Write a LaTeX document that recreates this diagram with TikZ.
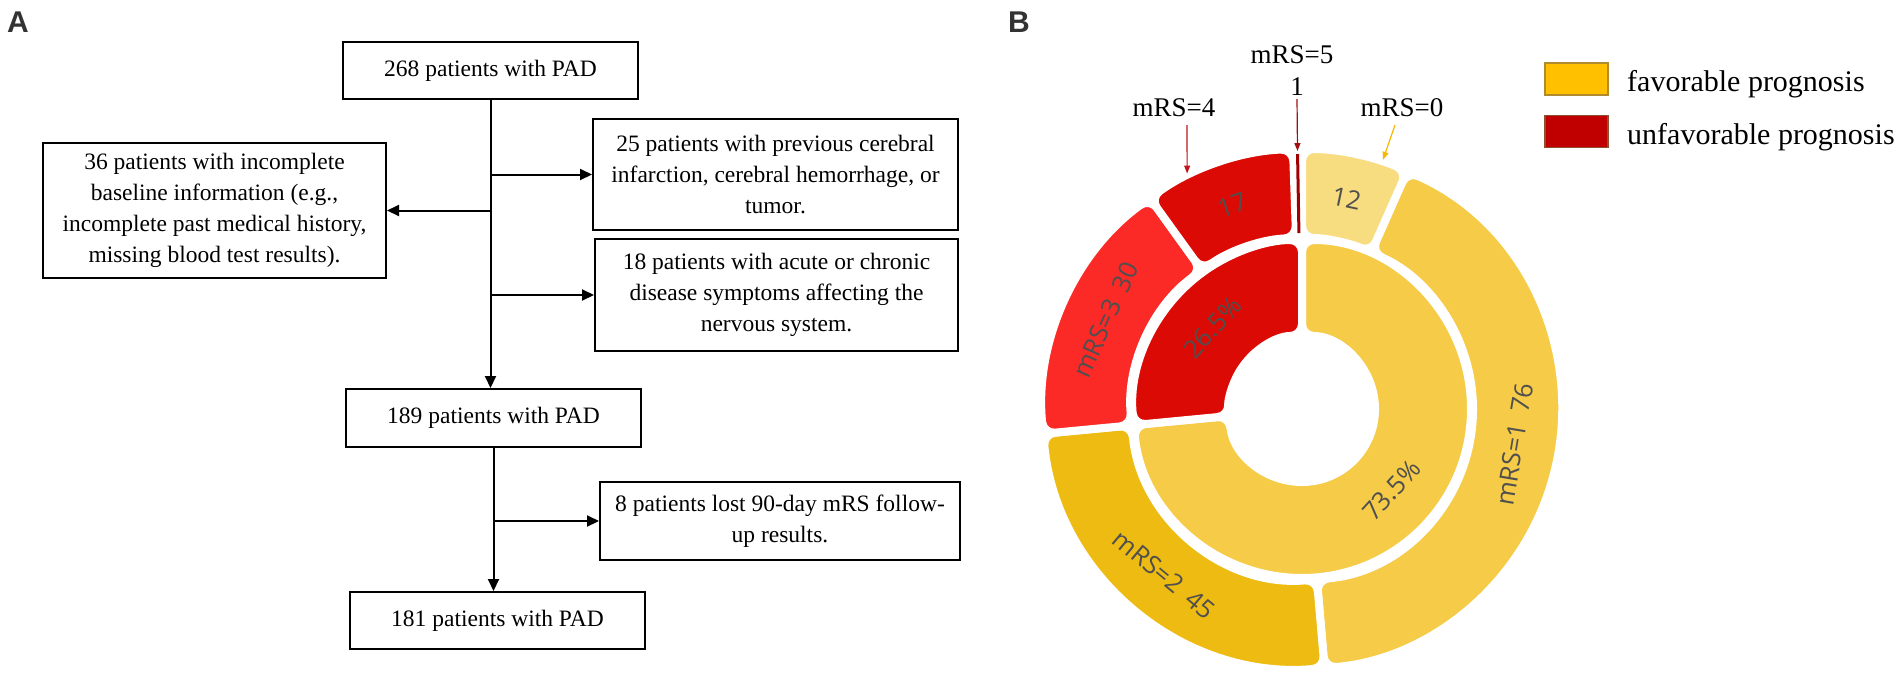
\documentclass[tikz,border=0pt]{standalone}
\usepackage{fontspec}
\setmainfont{Liberation Serif}
\newfontfamily\donutfont{Open Sans}
\newfontfamily\panelfont{Liberation Sans}
\usetikzlibrary{arrows.meta,calc}
\definecolor{cZero}{HTML}{F8DC80}
\definecolor{cOne}{HTML}{F5CB47}
\definecolor{cTwo}{HTML}{EDBB12}
\definecolor{cThree}{HTML}{FB2A27}
\definecolor{cFour}{HTML}{DC0A04}
\definecolor{cFive}{HTML}{A00000}
\definecolor{dgray}{HTML}{4F4F4F}
\definecolor{pgray}{HTML}{333333}
\definecolor{legY}{HTML}{FFC000}
\definecolor{legYb}{HTML}{B08A2E}
\definecolor{legR}{HTML}{C00000}
\definecolor{legRb}{HTML}{8E5030}
\definecolor{arrFour}{HTML}{C0141A}
\definecolor{arrFive}{HTML}{A01010}
\definecolor{arrZero}{HTML}{F5B800}
\newcommand\ringsector[5]{%
  \filldraw[fill=#1, draw=white, line width=8pt, rounded corners=12pt]
    (#2:#5) arc[start angle=#2, end angle=#3, radius=#5]
    -- (#3:#4) arc[start angle=#3, end angle=#2, radius=#4] -- cycle;}
\begin{document}
\begin{tikzpicture}[x=1pt,y=-1pt,
  box/.style={draw=black, line width=2pt, align=center, inner sep=0pt,
    font=\fontsize{23.5}{31}\selectfont},
  arr/.style={line width=2pt, -{Triangle[length=12pt,width=11pt]}},
  thinarr/.style={line width=1.2pt, -{Triangle[length=8pt,width=6pt]}},
  dtext/.style={text=dgray, font=\donutfont\fontsize{25.5}{25.5}\selectfont, inner sep=0pt},
  lab/.style={font=\fontsize{27}{27}\selectfont, inner sep=0pt},
  legtext/.style={font=\fontsize{30}{30}\selectfont, inner sep=0pt, anchor=base west},
  legbox/.style={minimum width=63pt, minimum height=32pt, line width=1.5pt, inner sep=0pt},
  panel/.style={font=\panelfont\bfseries\fontsize{30}{30}\selectfont, text=pgray, inner sep=0pt, anchor=base west}]
\useasboundingbox (0,0) rectangle (1902,672);

% panel letters
\node[panel] (pA) at (7,32) {A};
\node[panel] (pB) at (1008,32) {B};

% flowchart
\node[box, minimum width=295pt, minimum height=57pt] (b268) at (490.5,70.5) {268 patients with PAD};
\node[box, minimum width=343pt, minimum height=135pt] (b36) at (214.5,210.5)
  {36 patients with incomplete\\baseline information (e.g.,\\incomplete past medical history,\\missing blood test results).};
\node[box, minimum width=365pt, minimum height=111pt] (b25) at (775.5,174.5)
  {25 patients with previous cerebral\\infarction, cerebral hemorrhage, or\\tumor.};
\node[box, minimum width=363pt, minimum height=112pt] (b18) at (776.5,295)
  {18 patients with acute or chronic\\disease symptoms affecting the\\nervous system.};
\node[box, minimum width=295pt, minimum height=58pt] (b189) at (493.5,418) {189 patients with PAD};
\node[box, minimum width=360pt, minimum height=78pt] (b8) at (780,521)
  {8 patients lost 90-day mRS follow-\\up results.};
\node[box, minimum width=295pt, minimum height=57pt] (b181) at (497.5,620.5) {181 patients with PAD};

\draw[arr] (b268.south) -- (b268.south |- b189.north);
\draw[arr] (b268.south |- b25.west) -- (b25.west);
\draw[arr] (b268.south |- b36.east) -- (b36.east);
\draw[arr] (b268.south |- b18.west) -- (b18.west);
\draw[arr] (b189.south) -- (b189.south |- b181.north);
\draw[arr] (b189.south |- b8.west) -- (b8.west);

% donut
\begin{scope}[shift={(1302,409)}, x=1pt, y=1pt]
  \ringsector{cZero}{90}{66.133}{171}{260}
  \ringsector{cOne}{66.133}{-85.028}{171}{260}
  \ringsector{cTwo}{-85.028}{-174.530}{171}{260}
  \ringsector{cThree}{-174.530}{-234.199}{171}{260}
  \ringsector{cFour}{-234.199}{-268.011}{171}{260}
  \ringsector{cOne}{90}{-174.530}{73}{169}
  \ringsector{cFour}{-174.530}{-270}{73}{169}
  \draw[cFive, line width=3pt] (91:176) -- (91:255);
  \node[dtext, rotate=-11.9] (t12) at (78.07:215.5) {12};
  \node[dtext, rotate=18.9] (t17) at (108.9:215.5) {17};
  \node[dtext, rotate=65.6] (t30) at (155.6:215.5) {mRS=3\hspace{0.45em}30};
  \node[dtext, rotate=-39.8] (t45) at (-129.8:215.5) {mRS=2\hspace{0.45em}45};
  \node[dtext, rotate=80.55] (t76) at (-9.45:215.5) {mRS=1\hspace{0.45em}76};
  \node[dtext, rotate=47.7] (t265) at (137.7:121) {26.5\%};
  \node[dtext, rotate=47.7] (t735) at (-42.3:121) {73.5\%};
  \coordinate (tip5) at (91:258);
  \coordinate (tip4) at (116:262);
  \coordinate (tip0) at (72:262);
\end{scope}

% annotation labels
\node[lab] (l5) at (1292,55) {mRS=5};
\node[lab] (l1) at (1297,87) {1};
\node[lab] (l4) at (1174,108) {mRS=4};
\node[lab] (l0) at (1402,108) {mRS=0};
\coordinate (s4) at (1187,125);
\coordinate (s0) at (1395,125);
\coordinate (s5) at (1297,99);
\draw[thinarr, arrFive] (s5) -- (tip5);
\draw[thinarr, arrFour] (s4) -- (tip4);
\draw[thinarr, arrZero] (s0) -- (tip0);

% legend
\node[legbox, fill=legY, draw=legYb] (lgF) at (1576.5,79) {};
\node[legbox, fill=legR, draw=legRb] (lgU) at (1576.5,131.5) {};
\node[legtext] (txF) at (1627,91.5) {favorable prognosis};
\node[legtext] (txU) at (1627,144) {unfavorable prognosis};
\end{tikzpicture}
\end{document}
